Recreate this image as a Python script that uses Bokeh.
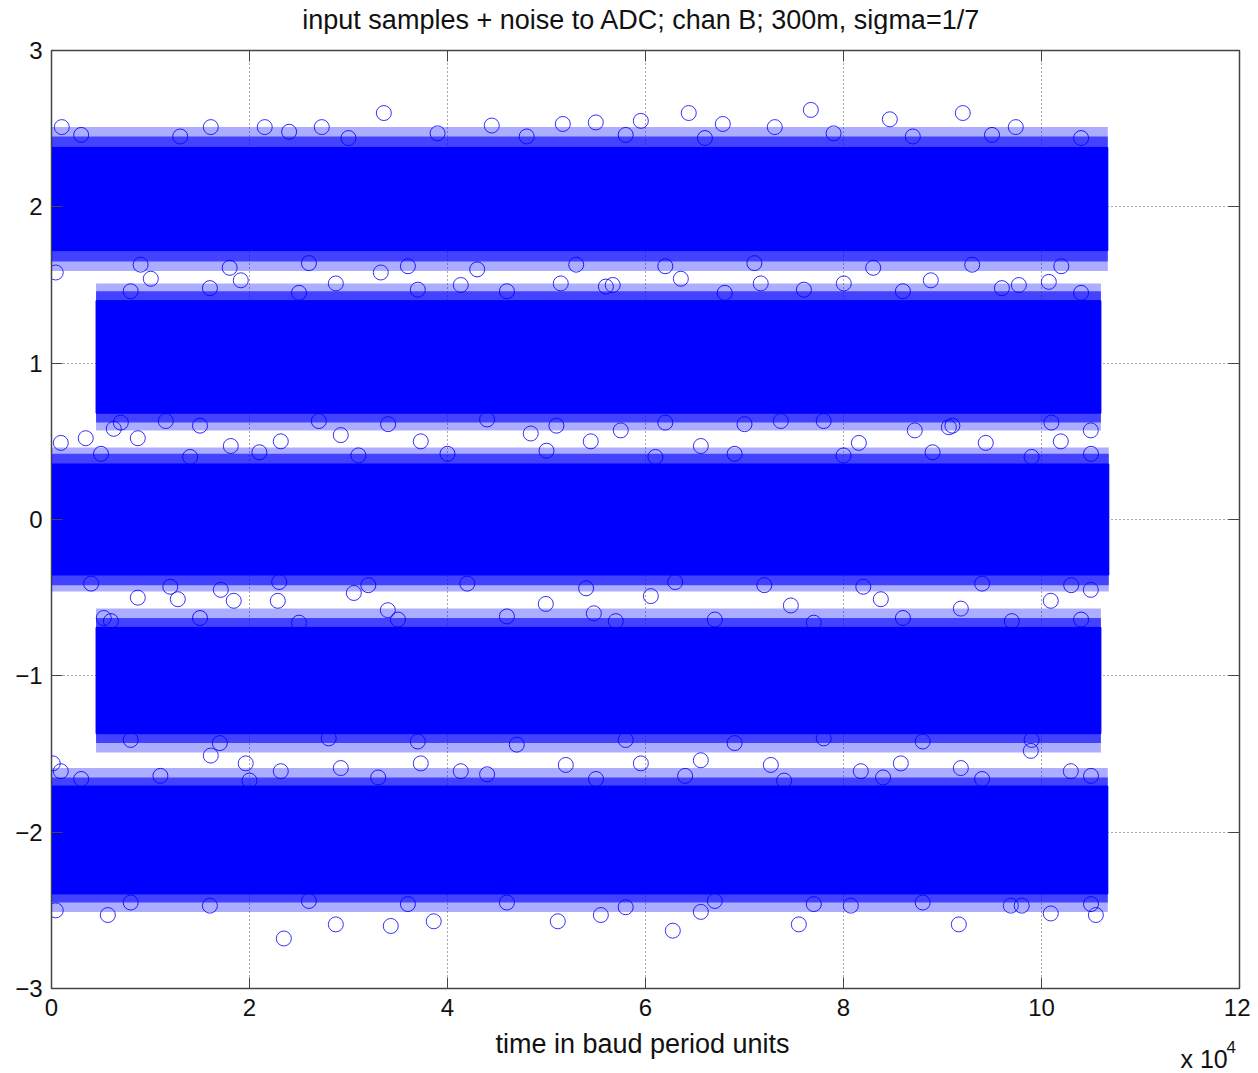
from bokeh.plotting import figure
from bokeh.models import Range1d, LinearAxis, FixedTicker, Label, ColumnDataSource
from bokeh.layouts import column
from bokeh.embed import file_html
from bokeh.resources import INLINE

# ---- data ----
# dense sample bands (signal levels): level, time span, solid-core half height, fringe half heights
levels = [2.05, 1.04, 0.0, -1.03, -2.05]
band_start = [-850, 4500, -850, 4500, -850]
band_end = [106700, 106000, 106800, 106000, 106700]
core_half = [0.33, 0.36, 0.355, 0.34, 0.345]
inner_fringe_half = [0.40, 0.42, 0.42, 0.40, 0.40]
outer_fringe_half = [0.46, 0.47, 0.46, 0.46, 0.46]

# isolated samples visible outside the dense bands
outlier_t = [33570, 76700, 92050, 59530, 64370, 84680, 16090, 44470, 67810, 73060, 97400, 1040, 21540, 27300, 51650, 54980,
             430, 33260, 28720, 41340, 51440, 56690, 71640, 80030, 88820, 97710, 100740, 10030, 19120, 63570,
             940, 3460, 6290, 8720, 11540, 18110, 23160, 29220, 37300, 48410, 54470, 57500, 65590, 73670, 81550, 87200, 90640, 94370, 101950, 104980,
             5280, 8720, 12760, 17100, 18410, 22860, 30540, 33970, 49930, 54780, 60540, 74680, 91850, 100940, 104980, 83770,
             130, 940, 16090, 19620, 23160, 29220, 37300, 41340, 51950, 59530, 65590, 72660, 81750, 85790, 91850, 98920, 102960,
             23470, 28720, 34270, 38610, 51140, 62760, 75490, 91650, 105490, 430, 5690, 55490, 65590, 100940, 80740, 96900]
outlier_v = [2.60, 2.62, 2.60, 2.55, 2.60, 2.56, 2.51, 2.52, 2.53, 2.51, 2.51, 2.51, 2.51, 2.51, 2.53, 2.54,
             1.58, 1.58, 1.51, 1.50, 1.51, 1.50, 1.51, 1.51, 1.53, 1.50, 1.52, 1.54, 1.53, 1.54,
             0.49, 0.52, 0.58, 0.52, 0.63, 0.47, 0.50, 0.54, 0.50, 0.55, 0.50, 0.57, 0.47, 0.63, 0.49, 0.57, 0.59, 0.49, 0.50, 0.57,
             -0.63, -0.50, -0.51, -0.45, -0.52, -0.52, -0.47, -0.58, -0.54, -0.60, -0.49, -0.55, -0.57, -0.52, -0.45, -0.51,
             -1.56, -1.61, -1.51, -1.56, -1.61, -1.59, -1.56, -1.61, -1.57, -1.56, -1.54, -1.57, -1.61, -1.56, -1.59, -1.48, -1.61,
             -2.68, -2.59, -2.60, -2.57, -2.57, -2.63, -2.59, -2.59, -2.53, -2.50, -2.53, -2.53, -2.51, -2.52, -2.47, -2.47]

# samples on the ragged edges of the bands
edge_t = [3000, 13000, 24000, 30000, 39000, 48000, 58000, 66000, 79000, 87000, 95000, 104000,
          9000, 18000, 26000, 36000, 43000, 53000, 62000, 71000, 83000, 93000, 102000,
          8000, 16000, 25000, 37000, 46000, 56000, 68000, 76000, 86000, 96000, 104000,
          7000, 15000, 27000, 34000, 44000, 51000, 62000, 70000, 78000, 91000, 101000,
          5000, 14000, 21000, 31000, 40000, 50000, 61000, 69000, 80000, 89000, 99000, 105000,
          4000, 12000, 23000, 32000, 42000, 54000, 63000, 72000, 82000, 94000, 103000,
          6000, 15000, 25000, 35000, 46000, 57000, 67000, 77000, 86000, 97000, 104000,
          8000, 17000, 28000, 37000, 47000, 58000, 69000, 78000, 88000, 99000,
          3000, 11000, 20000, 33000, 44000, 55000, 64000, 74000, 84000, 94000, 105000,
          8000, 16000, 26000, 36000, 46000, 58000, 67000, 77000, 88000, 98000, 105000]
edge_v = [2.46, 2.45, 2.48, 2.44, 2.47, 2.45, 2.46, 2.44, 2.47, 2.45, 2.46, 2.44,
          1.63, 1.61, 1.64, 1.62, 1.60, 1.63, 1.62, 1.64, 1.61, 1.63, 1.62,
          1.46, 1.48, 1.45, 1.47, 1.46, 1.49, 1.45, 1.47, 1.46, 1.48, 1.45,
          0.62, 0.60, 0.63, 0.61, 0.64, 0.60, 0.62, 0.61, 0.63, 0.60, 0.62,
          0.42, 0.40, 0.43, 0.41, 0.42, 0.44, 0.40, 0.42, 0.41, 0.43, 0.40, 0.42,
          -0.41, -0.43, -0.40, -0.42, -0.41, -0.44, -0.40, -0.42, -0.43, -0.41, -0.42,
          -0.65, -0.63, -0.66, -0.64, -0.62, -0.65, -0.64, -0.66, -0.63, -0.65, -0.64,
          -1.41, -1.43, -1.40, -1.42, -1.44, -1.41, -1.43, -1.40, -1.42, -1.41,
          -1.66, -1.64, -1.67, -1.65, -1.63, -1.66, -1.64, -1.67, -1.65, -1.66, -1.64,
          -2.45, -2.47, -2.44, -2.46, -2.45, -2.48, -2.44, -2.46, -2.45, -2.47, -2.46]

x_ticks = [0, 20000, 40000, 60000, 80000, 100000, 120000]
x_tick_labels = ["0", "2", "4", "6", "8", "10", "12"]
y_ticks = [-3, -2, -1, 0, 1, 2, 3]
y_tick_labels = ["\u22123", "\u22122", "\u22121", "0", "1", "2", "3"]

title_text = "input samples + noise to ADC; chan B; 300m, sigma=1/7"
x_label = "time in baud period units"
x_scale_text = "x 10"
x_scale_exp = "4"

# ---- styling ----
BLUE = "#0000ff"
FONT = "Liberation Sans"
INK = "#111111"
AXC = "#444444"
W = 1250
TOP_H = 34
BOT_H = 44
FRAME_L, FRAME_R = 51, 1239


def text_strip(h):
    # a plain strip whose x coordinates are page pixels (its frame lines up with the plot frame)
    f = figure(width=W, height=h, x_range=Range1d(FRAME_L, FRAME_R), y_range=Range1d(h, 0),
               output_backend="svg", toolbar_location=None,
               x_axis_location=None, y_axis_location=None, min_border=0)
    f.outline_line_color = None
    f.background_fill_color = "white"
    f.border_fill_color = "white"
    for g in f.grid:
        g.visible = False
    return f


# title strip
top = text_strip(TOP_H)
top.add_layout(Label(x=641, y=19, text=title_text, text_font=FONT, text_font_size="27px",
                     text_color=INK, text_align="center", text_baseline="middle"))

# main plot
p = figure(frame_width=FRAME_R - FRAME_L, frame_height=938, x_range=Range1d(0, 120000), y_range=Range1d(-3, 3),
           output_backend="svg", toolbar_location=None,
           min_border_left=FRAME_L, min_border_right=W - FRAME_R, min_border_top=16, min_border_bottom=40)
p.outline_line_color = AXC
p.outline_line_width = 1.5
p.background_fill_color = "white"
p.border_fill_color = "white"

band_src = ColumnDataSource(dict(
    left=band_start, right=band_end,
    core_bottom=[l - h for l, h in zip(levels, core_half)],
    core_top=[l + h for l, h in zip(levels, core_half)],
    in_bottom=[l - h for l, h in zip(levels, inner_fringe_half)],
    in_top=[l + h for l, h in zip(levels, inner_fringe_half)],
    out_bottom=[l - h for l, h in zip(levels, outer_fringe_half)],
    out_top=[l + h for l, h in zip(levels, outer_fringe_half)],
))
p.quad(left="left", right="right", bottom="out_bottom", top="out_top", source=band_src,
       fill_color=BLUE, fill_alpha=0.32, line_color=None)
p.quad(left="left", right="right", bottom="in_bottom", top="in_top", source=band_src,
       fill_color=BLUE, fill_alpha=0.62, line_color=None)
p.quad(left="left", right="right", bottom="core_bottom", top="core_top", source=band_src,
       fill_color=BLUE, line_color=BLUE, line_width=1)
p.scatter(x=edge_t, y=edge_v, marker="circle", size=15, fill_color=None,
          line_color=BLUE, line_width=1, line_alpha=0.85)
p.scatter(x=outlier_t, y=outlier_v, marker="circle", size=15, fill_color=None,
          line_color=BLUE, line_width=1, line_alpha=0.8)

for ax, ticks, labels in ((p.xaxis[0], x_ticks, x_tick_labels), (p.yaxis[0], y_ticks, y_tick_labels)):
    ax.ticker = FixedTicker(ticks=ticks)
    ax.major_label_overrides = {t: s for t, s in zip(ticks, labels)}
    ax.major_tick_in = 11
    ax.major_tick_out = 0
    ax.minor_tick_line_color = None
    ax.axis_line_color = AXC
    ax.major_tick_line_color = AXC
    ax.major_label_text_font = FONT
    ax.major_label_text_font_size = "24px"
    ax.major_label_text_color = INK
p.xaxis[0].major_label_standoff = 10
p.yaxis[0].major_label_standoff = 9

top_ax = LinearAxis(ticker=FixedTicker(ticks=x_ticks), major_label_overrides={t: "" for t in x_ticks},
                    major_tick_in=11, major_tick_out=0, minor_tick_line_color=None,
                    axis_line_color=AXC, major_tick_line_color=AXC, major_label_standoff=0,
                    major_label_text_font_size="1px")
right_ax = LinearAxis(ticker=FixedTicker(ticks=y_ticks), major_label_overrides={t: "" for t in y_ticks},
                      major_tick_in=11, major_tick_out=0, minor_tick_line_color=None,
                      axis_line_color=AXC, major_tick_line_color=AXC, major_label_standoff=0,
                      major_label_text_font_size="1px")
p.add_layout(top_ax, "above")
p.add_layout(right_ax, "right")

p.xgrid.ticker = FixedTicker(ticks=x_ticks)
p.ygrid.ticker = FixedTicker(ticks=y_ticks)
for g in (p.xgrid[0], p.ygrid[0]):
    g.grid_line_color = "#555555"
    g.grid_line_dash = "1 3"
    g.grid_line_width = 1

# x-label strip
bot = text_strip(BOT_H)
bot.add_layout(Label(x=642, y=15, text=x_label, text_font=FONT, text_font_size="27px",
                     text_color=INK, text_align="center", text_baseline="middle"))
bot.add_layout(Label(x=1180, y=30, text=x_scale_text, text_font=FONT, text_font_size="25px",
                     text_color=INK, text_align="left", text_baseline="middle"))
bot.add_layout(Label(x=1226, y=18, text=x_scale_exp, text_font=FONT, text_font_size="17px",
                     text_color=INK, text_align="left", text_baseline="middle"))

layout = column(top, p, bot, spacing=0)
open("out.html", "w").write(file_html(layout, INLINE))
